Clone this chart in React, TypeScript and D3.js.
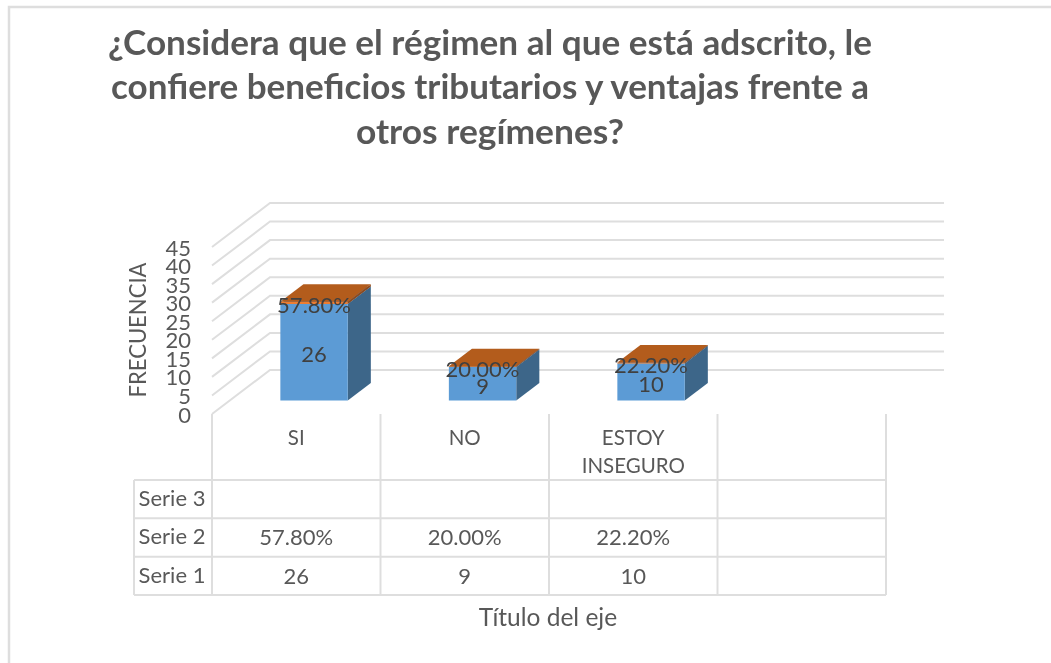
import * as d3 from 'd3';
import React, { useRef, useEffect } from 'react';

const categories = ["SI", "NO", "ESTOY INSEGURO", ""]
const serie1 = [26, 9, 10]
const serie2 = [57.8, 20.0, 22.2]
const serie2Labels = ["57.80%", "20.00%", "22.20%"]
const yTicks = [0, 5, 10, 15, 20, 25, 30, 35, 40, 45]
const rowNames = ["Serie 3", "Serie 2", "Serie 1"]
const titleLines = [
  "¿Considera que el régimen al que está adscrito, le",
  "confiere beneficios tributarios y ventajas frente a",
  "otros regímenes?",
]
const titleWidths = [764, 758, 268]

const WIDTH = 1051
const HEIGHT = 663
const FONT = "Lato, 'Open Sans', sans-serif"
const GRID = "#dedede"
const TEXT = "#595959"

// depth of the 3d box, the floor goes this far right and up
const depthX = 58
const depthY = 44
const barZ0 = 0.307
const barZ1 = 0.705

function App() {
  const ref = useRef<SVGSVGElement>(null)

  useEffect(() => {
    const svg = d3.select(ref.current)
    svg.selectAll('*').remove()

    svg.append("defs").append("filter")
      .attr("id", "soft")
      .attr("x", 0).attr("y", 0).attr("width", "100%").attr("height", "100%")
      .append("feGaussianBlur")
      .attr("stdDeviation", 0.6)

    const root = svg.append("g").attr("filter", "url(#soft)")

    root.append("rect").attr("width", WIDTH).attr("height", HEIGHT).attr("fill", "white")

    // frame, only top and left show up in the shot
    root.append("path")
      .attr("d", `M9,${HEIGHT}V7H${WIDTH}`)
      .attr("fill", "none")
      .attr("stroke", GRID)
      .attr("stroke-width", 2.5)

    // title
    root.append("g").selectAll("text")
      .data(titleLines)
      .enter()
      .append("text")
      .attr("x", 490)
      .attr("y", (d, i) => [55, 99, 144][i])
      .attr("text-anchor", "middle")
      .attr("font-family", FONT)
      .attr("font-weight", 700)
      .attr("font-size", 35)
      .attr("fill", TEXT)
      .attr("textLength", (d, i) => titleWidths[i])
      .attr("lengthAdjust", "spacingAndGlyphs")
      .text(d => d)

    const x = d3.scaleBand<string>().domain(categories).range([212, 886]).padding(0)
    const y = d3.scaleLinear().domain([0, 45]).range([414, 247])

    const px = (xv: number, z: number) => xv + z * depthX
    const py = (v: number, z: number) => y(v) - z * depthY

    // walls
    const grid = root.append("g").attr("fill", "none").attr("stroke", GRID).attr("stroke-width", 2)
    grid.selectAll("path")
      .data(yTicks)
      .enter()
      .append("path")
      .attr("d", d => d3.line()([
        [px(212, 0), py(d, 0)],
        [px(212, 1), py(d, 1)],
        [px(886, 1), py(d, 1)],
      ]))

    // y axis
    const axis = root.append("g")
      .attr("transform", "translate(198,1)")
      .call(d3.axisLeft(y).tickValues(yTicks).tickSize(0).tickPadding(7))
    axis.select(".domain").remove()
    axis.selectAll("text")
      .attr("font-family", FONT)
      .attr("font-size", 22)
      .attr("fill", TEXT)

    root.append("text")
      .attr("transform", "translate(146,330) rotate(-90)")
      .attr("text-anchor", "middle")
      .attr("font-family", FONT)
      .attr("font-size", 23)
      .attr("fill", TEXT)
      .attr("textLength", 135)
      .attr("lengthAdjust", "spacingAndGlyphs")
      .text("FRECUENCIA")

    // bars
    const barW = x.bandwidth() * 0.4
    const barLeft = (c: string) => x(c)! + (x.bandwidth() - barW) / 2
    const poly = (pts: [number, number][]) => d3.line()(pts) + "Z"

    const segment = (c: string, v0: number, v1: number, front: string, side: string, top: string) => {
      const l = barLeft(c)
      const r = l + barW
      const g = root.append("g")
      g.append("path").attr("fill", side).attr("d", poly([
        [px(r, barZ0), py(v0, barZ0)],
        [px(r, barZ1), py(v0, barZ1)],
        [px(r, barZ1), py(v1, barZ1)],
        [px(r, barZ0), py(v1, barZ0)],
      ]))
      g.append("path").attr("fill", front).attr("d", poly([
        [px(l, barZ0), py(v0, barZ0)],
        [px(r, barZ0), py(v0, barZ0)],
        [px(r, barZ0), py(v1, barZ0)],
        [px(l, barZ0), py(v1, barZ0)],
      ]))
      g.append("path").attr("fill", top).attr("d", poly([
        [px(l, barZ0), py(v1, barZ0)],
        [px(r, barZ0), py(v1, barZ0)],
        [px(r, barZ1), py(v1, barZ1)],
        [px(l, barZ1), py(v1, barZ1)],
      ]))
    }

    serie1.forEach((v, i) => {
      const c = categories[i]
      const p = serie2[i] / 100
      segment(c, 0, v, "#5b9bd5", "#3c6689", "#4a80b0")
      segment(c, v, v + p, "#ed7d31", "#8f4a1c", "#b35c1e")
    })

    // data labels
    const barLabel = (c: string, v: number, s: string) => {
      root.append("text")
        .attr("x", px(x(c)! + x.bandwidth() / 2, barZ0))
        .attr("y", py(v, barZ0) + 2.5)
        .attr("dy", "0.35em")
        .attr("text-anchor", "middle")
        .attr("font-family", FONT)
        .attr("font-size", 22)
        .attr("fill", "#404040")
        .text(s)
    }
    serie1.forEach((v, i) => {
      barLabel(categories[i], v / 2, String(v))
      barLabel(categories[i], v + serie2[i] / 200, serie2Labels[i])
    })

    // data table
    const rowY = d3.scaleBand<string>().domain(rowNames).range([480, 595])
    const table = root.append("g").attr("fill", "none").attr("stroke", GRID).attr("stroke-width", 2)
    categories.forEach(c => {
      table.append("path").attr("d", `M${x(c)},414V595`)
    })
    table.append("path").attr("d", `M886,414V595`)
    table.append("path").attr("d", `M134,480V595`)
    rowNames.forEach(r => {
      table.append("path").attr("d", `M134,${rowY(r)}H886`)
    })
    table.append("path").attr("d", `M134,595H886`)

    const cell = (cx: number, cy: number, s: string, size = 22) => {
      root.append("text")
        .attr("x", cx)
        .attr("y", cy)
        .attr("dy", "0.35em")
        .attr("text-anchor", "middle")
        .attr("font-family", FONT)
        .attr("font-size", size)
        .attr("fill", TEXT)
        .text(s)
    }

    // category row, the third one wraps on two lines
    categories.forEach(c => {
      const cx = x(c)! + x.bandwidth() / 2
      if (c === "ESTOY INSEGURO") {
        cell(cx, 438, "ESTOY", 20.5)
        cell(cx, 466, "INSEGURO", 20.5)
      } else if (c) {
        cell(cx, 438, c, 20.5)
      }
    })
    rowNames.forEach(r => {
      cell(172, rowY(r)! + rowY.bandwidth() / 2 - 1, r)
    })
    serie1.forEach((v, i) => {
      const cx = x(categories[i])! + x.bandwidth() / 2
      cell(cx, rowY("Serie 2")! + rowY.bandwidth() / 2, serie2Labels[i])
      cell(cx, rowY("Serie 1")! + rowY.bandwidth() / 2, String(v))
    })

    cell(548, 617, "Título del eje", 24.5)
  }, [])

  return (
    <svg ref={ref} width={WIDTH} height={HEIGHT} style={{ position: "absolute", left: 0, top: 0 }}>
    </svg>
  )
}

export default App;
